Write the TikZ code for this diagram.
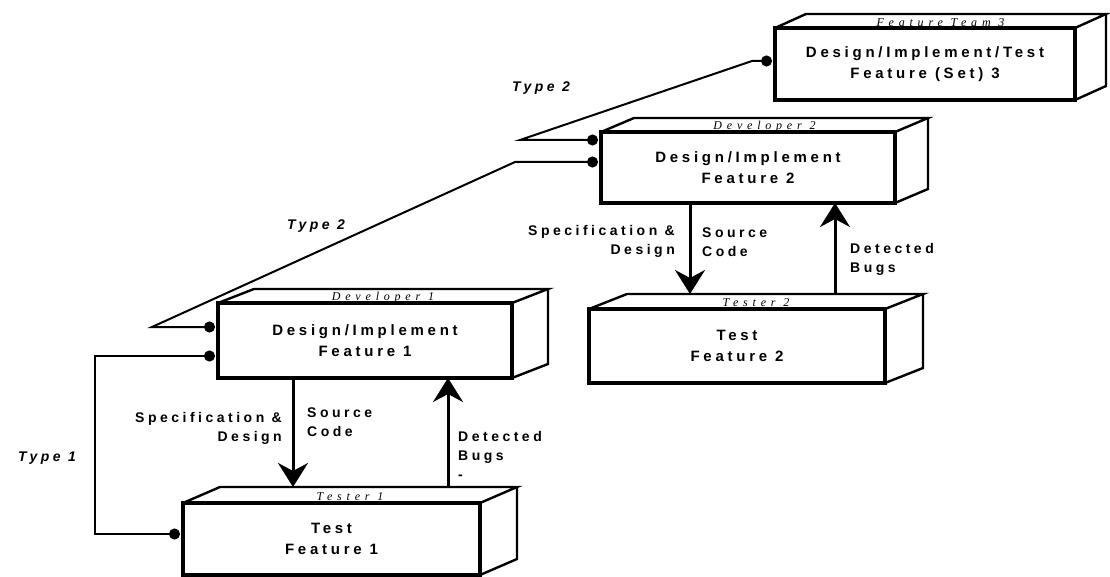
\documentclass[tikz,border=0pt]{standalone}
\usepackage{fontspec}
\setmainfont{Liberation Sans}[LetterSpace=25]
\newfontfamily\topfont{Liberation Serif}[LetterSpace=40]
\usetikzlibrary{arrows.meta,calc}
\newcommand\cubefaces[4]{%
  \draw[face] (#1.north west) -- ++(#2,#3) -- ($(#1.north east)+(#2,#3)$) -- (#1.north east);
  \draw[face] ($(#1.north east)+(#2,#3)$) -- ($(#1.south east)+(#2,#3)$) -- (#1.south east);
  \node[toplbl] at ($(#1.north)+(#2/2,#3/2+1.5)$) {#4};
}
\begin{document}
\begin{tikzpicture}[x=1pt,y=-1pt,
  front/.style={draw, line width=3.2pt, fill=white, inner sep=0pt, outer sep=0pt, align=center,
    font=\fontsize{15}{21}\selectfont\bfseries},
  face/.style={draw, line width=2.4pt, line join=miter},
  toplbl/.style={font=\topfont\itshape\fontsize{12}{12}\selectfont, inner sep=0pt},
  lbl/.style={font=\fontsize{14}{19}\selectfont\bfseries, inner sep=0pt},
  typelbl/.style={font=\fontsize{14}{15}\selectfont\bfseries\itshape, inner sep=0pt},
  flow/.style={line width=3pt, -{Stealth[length=24pt,width=30pt,inset=8pt]}},
  conn/.style={line width=2pt, {Circle[length=11pt]}-{Circle[length=11pt]}},
]
\useasboundingbox (0,0) rectangle (1110,577);

% boxes
\node[front, minimum width=300pt, minimum height=72pt] (b3) at (925,64) {Design/Implement/Test\\Feature (Set) 3};
\cubefaces{b3}{31}{-14}{Feature Team 3}

\node[front, minimum width=294pt, minimum height=71pt] (d2) at (748,167.5) {Design/Implement\\Feature 2};
\cubefaces{d2}{33}{-14}{Developer 2}

\node[front, minimum width=296pt, minimum height=74pt] (t2) at (737,346) {Test\\Feature 2};
\cubefaces{t2}{38}{-15}{Tester 2}

\node[front, minimum width=294pt, minimum height=75pt] (d1) at (365,340.5) {Design/Implement\\Feature 1};
\cubefaces{d1}{36}{-14}{Developer 1}

\node[front, minimum width=297pt, minimum height=72pt] (t1) at (331.5,539) {Test\\Feature 1};
\cubefaces{t1}{37}{-16}{Tester 1}

% flow arrows, pair 1
\coordinate (t1back) at ($(t1.north)+(37,-16)$);
\coordinate (a1s) at ([shift={(-72,0)}]d1.south);
\coordinate (a1b) at ([shift={(83,0)}]d1.south);
\draw[flow] (a1s) -- (a1s |- t1back);
\draw[flow] (a1b |- t1back) -- (a1b);
\node[lbl, align=right, anchor=east] at ($(a1s)+(-11,50)$) {Specification \&\\Design};
\node[lbl, align=left, anchor=west] at ($(a1s)+(14,44.5)$) {Source\\Code};
\node[lbl, align=left, anchor=west] at ($(a1b)+(10,77)$) {Detected\\Bugs\\-};

% flow arrows, pair 2
\coordinate (t2back) at ($(t2.north)+(38,-15)$);
\coordinate (a2s) at ([shift={(-58,0)}]d2.south);
\coordinate (a2b) at ([shift={(87,0)}]d2.south);
\draw[flow] (a2s) -- (a2s |- t2back);
\draw[flow] (a2b |- t2back) -- (a2b);
\node[lbl, align=right, anchor=east] at ($(a2s)+(-15,38.5)$) {Specification \&\\Design};
\node[lbl, align=left, anchor=west] at ($(a2s)+(12,39.5)$) {Source\\Code};
\node[lbl, align=left, anchor=west] at ($(a2b)+(15,56)$) {Detected\\Bugs};

% type connectors
\draw[conn] ([shift={(-3,-3)}]b3.west) -- (752,61) -- (520,140) -- ([shift={(-3,-27.5)}]d2.west);
\draw[conn] ([shift={(-3,-5.5)}]d2.west) -- (515,162) -- (152,327) -- ([shift={(-3,-13.5)}]d1.west);
\draw[conn] ([shift={(-3,15.5)}]d1.west) -- (95,356) -- (95,534) -- ([shift={(-3,-5)}]t1.west);

\node[typelbl] (ty2a) at (541,88) {Type 2};
\node[typelbl] (ty2b) at (316,226) {Type 2};
\node[typelbl] (ty1) at (47,458) {Type 1};
\end{tikzpicture}
\end{document}
